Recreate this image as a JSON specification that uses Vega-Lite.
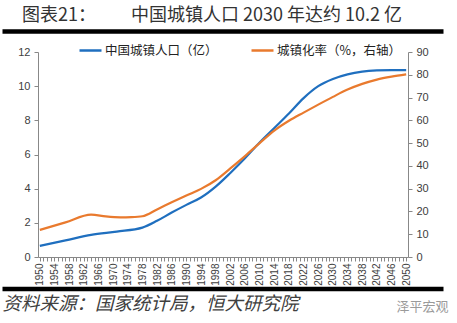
{
  "$schema": "https://vega.github.io/schema/vega-lite/v6.json",
  "width": 370,
  "height": 205,
  "autosize": {"type": "none"},
  "padding": {"left": 38, "top": 52, "right": 49, "bottom": 66},
  "background": "white",
  "config": {"view": {"stroke": null}},
  "title": {
    "text": "图表21：\u3000\u3000\u00a0\u00a0中国城镇人口 2030 年达约 10.2 亿",
    "anchor": "start",
    "frame": "group",
    "dx": -16,
    "offset": 6,
    "font": "Noto Sans CJK SC",
    "fontSize": 18,
    "fontWeight": "normal",
    "color": "#333333"
  },
  "data": {
    "values": [
      {"year": 1950, "series": "中国城镇人口（亿）", "value": 0.65},
      {"year": 1957, "series": "中国城镇人口（亿）", "value": 0.97},
      {"year": 1964, "series": "中国城镇人口（亿）", "value": 1.30},
      {"year": 1971, "series": "中国城镇人口（亿）", "value": 1.49},
      {"year": 1978, "series": "中国城镇人口（亿）", "value": 1.72},
      {"year": 1982, "series": "中国城镇人口（亿）", "value": 2.12},
      {"year": 1986, "series": "中国城镇人口（亿）", "value": 2.60},
      {"year": 1990, "series": "中国城镇人口（亿）", "value": 3.05},
      {"year": 1994, "series": "中国城镇人口（亿）", "value": 3.48},
      {"year": 1998, "series": "中国城镇人口（亿）", "value": 4.12},
      {"year": 2002, "series": "中国城镇人口（亿）", "value": 4.92},
      {"year": 2006, "series": "中国城镇人口（亿）", "value": 5.78},
      {"year": 2010, "series": "中国城镇人口（亿）", "value": 6.70},
      {"year": 2014, "series": "中国城镇人口（亿）", "value": 7.55},
      {"year": 2018, "series": "中国城镇人口（亿）", "value": 8.40},
      {"year": 2022, "series": "中国城镇人口（亿）", "value": 9.30},
      {"year": 2026, "series": "中国城镇人口（亿）", "value": 10.00},
      {"year": 2030, "series": "中国城镇人口（亿）", "value": 10.42},
      {"year": 2034, "series": "中国城镇人口（亿）", "value": 10.69},
      {"year": 2038, "series": "中国城镇人口（亿）", "value": 10.85},
      {"year": 2042, "series": "中国城镇人口（亿）", "value": 10.92},
      {"year": 2046, "series": "中国城镇人口（亿）", "value": 10.94},
      {"year": 2050, "series": "中国城镇人口（亿）", "value": 10.94},
      {"year": 1950, "series": "城镇化率（%，右轴）", "value": 11.9},
      {"year": 1957, "series": "城镇化率（%，右轴）", "value": 15.2},
      {"year": 1964, "series": "城镇化率（%，右轴）", "value": 18.6},
      {"year": 1968, "series": "城镇化率（%，右轴）", "value": 17.8},
      {"year": 1972, "series": "城镇化率（%，右轴）", "value": 17.4},
      {"year": 1975, "series": "城镇化率（%，右轴）", "value": 17.5},
      {"year": 1978, "series": "城镇化率（%，右轴）", "value": 17.9},
      {"year": 1982, "series": "城镇化率（%，右轴）", "value": 20.9},
      {"year": 1986, "series": "城镇化率（%，右轴）", "value": 24.0},
      {"year": 1990, "series": "城镇化率（%，右轴）", "value": 27.0},
      {"year": 1994, "series": "城镇化率（%，右轴）", "value": 29.9},
      {"year": 1998, "series": "城镇化率（%，右轴）", "value": 33.7},
      {"year": 2002, "series": "城镇化率（%，右轴）", "value": 38.9},
      {"year": 2006, "series": "城镇化率（%，右轴）", "value": 44.3},
      {"year": 2010, "series": "城镇化率（%，右轴）", "value": 50.0},
      {"year": 2014, "series": "城镇化率（%，右轴）", "value": 55.5},
      {"year": 2018, "series": "城镇化率（%，右轴）", "value": 59.8},
      {"year": 2022, "series": "城镇化率（%，右轴）", "value": 63.4},
      {"year": 2026, "series": "城镇化率（%，右轴）", "value": 66.9},
      {"year": 2030, "series": "城镇化率（%，右轴）", "value": 70.3},
      {"year": 2034, "series": "城镇化率（%，右轴）", "value": 73.5},
      {"year": 2038, "series": "城镇化率（%，右轴）", "value": 76.0},
      {"year": 2042, "series": "城镇化率（%，右轴）", "value": 77.9},
      {"year": 2046, "series": "城镇化率（%，右轴）", "value": 79.2},
      {"year": 2050, "series": "城镇化率（%，右轴）", "value": 80.2}
    ]
  },
  "layer": [
    {
      "transform": [{"filter": "datum.series === '中国城镇人口（亿）'"}],
      "mark": {"type": "line", "opacity": 0},
      "encoding": {
        "x": {
          "field": "year", "type": "quantitative",
          "scale": {"domain": [1949.5, 2050.5], "range": [-36, 405], "nice": false, "zero": false},
          "axis": {"orient": "top", "offset": 21, "domainColor": "#000000", "domainWidth": 4.5, "ticks": false, "labels": false, "grid": false, "title": null}
        },
        "y": {"field": "value", "type": "quantitative", "axis": null}
      }
    },
    {
      "transform": [{"filter": "datum.series === '中国城镇人口（亿）'"}],
      "mark": {"type": "line", "opacity": 0},
      "encoding": {
        "x": {
          "field": "year", "type": "quantitative",
          "scale": {"domain": [1949.5, 2050.5], "range": [-36, 405], "nice": false, "zero": false},
          "axis": {"orient": "bottom", "offset": 31.5, "domainColor": "#000000", "domainWidth": 4.5, "ticks": false, "labels": false, "grid": false,
            "title": "资料来源：国家统计局，恒大研究院", "titleAnchor": "start", "titleFont": "Noto Sans CJK SC", "titleFontSize": 18.5, "titleFontStyle": "italic", "titleFontWeight": "normal", "titleColor": "#404040", "titlePadding": 6}
        },
        "y": {"field": "value", "type": "quantitative", "axis": null}
      }
    },
    {
      "transform": [{"filter": "datum.series === '中国城镇人口（亿）'"}],
      "mark": {"type": "line", "strokeWidth": 2.2, "interpolate": "monotone"},
      "encoding": {
        "x": {
          "field": "year", "type": "quantitative",
          "scale": {"domain": [1949.5, 2050.5], "nice": false, "zero": false},
          "axis": {
            "orient": "bottom",
            "values": [1950,1951,1952,1953,1954,1955,1956,1957,1958,1959,1960,1961,1962,1963,1964,1965,1966,1967,1968,1969,1970,1971,1972,1973,1974,1975,1976,1977,1978,1979,1980,1981,1982,1983,1984,1985,1986,1987,1988,1989,1990,1991,1992,1993,1994,1995,1996,1997,1998,1999,2000,2001,2002,2003,2004,2005,2006,2007,2008,2009,2010,2011,2012,2013,2014,2015,2016,2017,2018,2019,2020,2021,2022,2023,2024,2025,2026,2027,2028,2029,2030,2031,2032,2033,2034,2035,2036,2037,2038,2039,2040,2041,2042,2043,2044,2045,2046,2047,2048,2049,2050],
            "format": "d",
            "labelExpr": "(datum.value - 1950) % 4 === 0 ? datum.label : ''",
            "labelAngle": -90,
            "labelFont": "Liberation Sans",
            "labelFontSize": 10,
            "labelColor": "#404040",
            "labelPadding": 2,
            "labelOverlap": false,
            "labelFlush": false,
            "tickSize": 4,
            "tickColor": "#888888",
            "domainColor": "#888888",
            "grid": false,
            "title": "泽平宏观",
            "titleX": 410,
            "titleY": 49,
            "titleAlign": "right",
            "titleBaseline": "middle",
            "titleFont": "Noto Sans CJK SC",
            "titleFontSize": 13,
            "titleFontWeight": "normal",
            "titleColor": "#9a9a9a"
          }
        },
        "y": {
          "field": "value", "type": "quantitative",
          "scale": {"domain": [0, 12], "nice": false},
          "axis": {"orient": "left", "values": [0,2,4,6,8,10,12], "labelFont": "Liberation Sans", "labelFontSize": 11, "labelColor": "#404040", "labelPadding": 4, "tickSize": 4, "tickColor": "#888888", "domainColor": "#888888", "grid": false, "title": null}
        },
        "color": {
          "field": "series", "type": "nominal",
          "scale": {"domain": ["中国城镇人口（亿）", "城镇化率（%，右轴）"], "range": ["#1F6FBF", "#E97A2E"]},
          "legend": {
            "orient": "none", "legendX": 40, "legendY": -14, "direction": "horizontal", "title": null,
            "symbolType": "stroke", "symbolSize": 484, "symbolStrokeWidth": 2.5,
            "labelFont": "Noto Sans CJK SC", "labelFontSize": 12.5, "labelColor": "#222222", "labelOffset": 2,
            "columnPadding": 28
          }
        }
      }
    },
    {
      "transform": [{"filter": "datum.series === '城镇化率（%，右轴）'"}],
      "mark": {"type": "line", "strokeWidth": 2.2, "interpolate": "monotone"},
      "encoding": {
        "x": {
          "field": "year", "type": "quantitative",
          "scale": {"domain": [1949.5, 2050.5], "nice": false, "zero": false},
          "axis": null
        },
        "y": {
          "field": "value", "type": "quantitative",
          "scale": {"domain": [0, 90], "nice": false},
          "axis": {"orient": "right", "values": [0,10,20,30,40,50,60,70,80,90], "labelFont": "Liberation Sans", "labelFontSize": 11, "labelColor": "#404040", "labelPadding": 4, "tickSize": 4, "tickColor": "#888888", "domainColor": "#888888", "grid": false, "title": null}
        },
        "color": {"field": "series", "type": "nominal"}
      }
    }
  ],
  "resolve": {
    "scale": {"x": "independent", "y": "independent"},
    "axis": {"x": "independent", "y": "independent"}
  }
}
